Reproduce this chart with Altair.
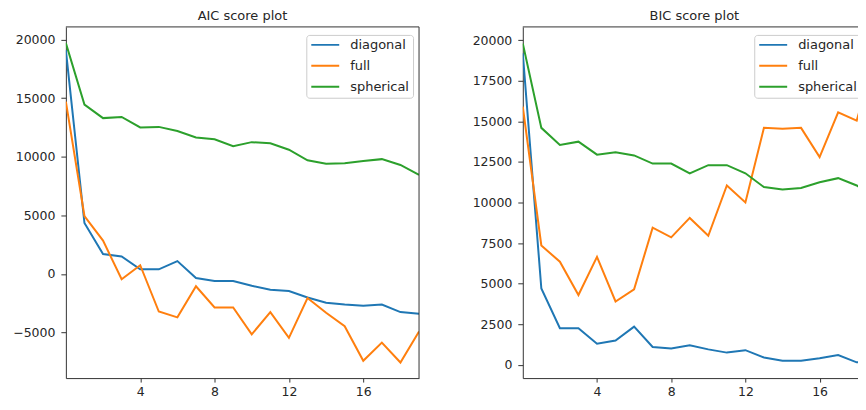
import altair as alt
import pandas as pd

# ---- data ----
k_values = list(range(20))
cov_types = ["diagonal", "full", "spherical"]
cov_colors = ["#1f77b4", "#ff7f0e", "#2ca02c"]

aic_diagonal = [19100, 4350, 1700, 1500, 400, 400, 1100, -340, -600, -600,
                -1000, -1350, -1450, -2000, -2450, -2600, -2700, -2600, -3250, -3400]
aic_full = [14700, 4950, 2850, -450, 750, -3200, -3700, -1050, -2850, -2850,
            -5150, -3250, -5450, -2050, -3300, -4450, -7400, -5850, -7550, -4900]
aic_spherical = [19700, 14450, 13300, 13400, 12500, 12550, 12200, 11650, 11500, 10900,
                 11250, 11150, 10600, 9700, 9400, 9450, 9650, 9800, 9300, 8450]

bic_diagonal = [19200, 4700, 2250, 2250, 1300, 1500, 2350, 1100, 1000, 1200,
                950, 750, 900, 450, 250, 250, 400, 600, 150, 150]
bic_full = [15900, 7350, 6350, 4300, 6650, 3900, 4650, 8450, 7850, 9050,
            7950, 11050, 10000, 14600, 14550, 14600, 12800, 15550, 15050, 19000]
bic_spherical = [19800, 14600, 13550, 13750, 12950, 13100, 12900, 12400, 12400, 11800,
                 12300, 12300, 11800, 10950, 10800, 10900, 11250, 11500, 11050, 10350]

x_ticks = [4, 8, 12, 16]
aic_y_ticks = [-5000, 0, 5000, 10000, 15000, 20000]
bic_y_ticks = [0, 2500, 5000, 7500, 10000, 12500, 15000, 17500, 20000]


def long_frame(series):
    rows = []
    for name, vals in zip(cov_types, series):
        for k, v in zip(k_values, vals):
            rows.append({"k": k, "score": v, "covariance": name})
    return pd.DataFrame(rows)


aic_df = long_frame([aic_diagonal, aic_full, aic_spherical])
bic_df = long_frame([bic_diagonal, bic_full, bic_spherical])

FONT = "DejaVu Sans"
TXT = "#262626"
SPINE = "#333333"
H = 352


def panel(df, title, y_domain, y_ticks, x_max, width, legend_x, right_spine):
    lines = alt.Chart(df).mark_line(strokeWidth=2, clip=True).encode(
        x=alt.X("k:Q",
                scale=alt.Scale(domain=[0, x_max], nice=False, zero=False),
                axis=alt.Axis(values=x_ticks, title=None, labelPadding=3, tickSize=4)),
        y=alt.Y("score:Q",
                scale=alt.Scale(domain=y_domain, nice=False, zero=False),
                axis=alt.Axis(values=y_ticks, format="d", title=None,
                              labelPadding=6, tickSize=5)),
        color=alt.Color("covariance:N",
                        scale=alt.Scale(domain=cov_types, range=cov_colors),
                        legend=alt.Legend(
                            title=None, orient="none", legendX=legend_x, legendY=8,
                            symbolType="stroke", symbolSize=784, symbolStrokeWidth=2,
                            labelFont=FONT, labelFontSize=13, labelColor=TXT,
                            labelOffset=10, rowPadding=8, clipHeight=12,
                            padding=4, strokeColor="#cccccc",
                            fillColor="rgba(255,255,255,0.8)", cornerRadius=3)),
        detail="covariance:N",
    )
    frame = alt.Data(values=[{"f": 1}])
    top = alt.Chart(frame).mark_rule(color=SPINE, strokeWidth=1).encode(
        x=alt.value(0), x2=alt.value(width), y=alt.value(0))
    layers = [lines, top]
    if right_spine:
        right = alt.Chart(frame).mark_rule(color=SPINE, strokeWidth=1).encode(
            x=alt.value(width), y=alt.value(0), y2=alt.value(H))
        layers.append(right)
    return alt.layer(*layers).properties(
        width=width, height=H,
        title=alt.Title(title, font=FONT, fontSize=13, fontWeight="normal",
                        color=TXT, offset=3, anchor="middle"),
    )


left = panel(aic_df, "AIC score plot", [-8880, 21080], aic_y_ticks, 19, 354, 241, True)
right = panel(bic_df, "BIC score plot", [-820, 20820], bic_y_ticks, 18.5, 344, 232, False)

chart = alt.hconcat(left, right, spacing=52).resolve_scale(
    color="independent").resolve_legend(color="independent").properties(
    padding={"left": 4, "top": 1.5, "right": -9, "bottom": 0}
).configure_view(stroke=None).configure_axis(
    grid=False, domainColor=SPINE, domainWidth=1, tickColor=SPINE, tickWidth=1,
    labelFont=FONT, labelFontSize=12.5, labelColor=TXT,
)

chart.save("out.html", embed_options={"renderer": "svg", "actions": False})
